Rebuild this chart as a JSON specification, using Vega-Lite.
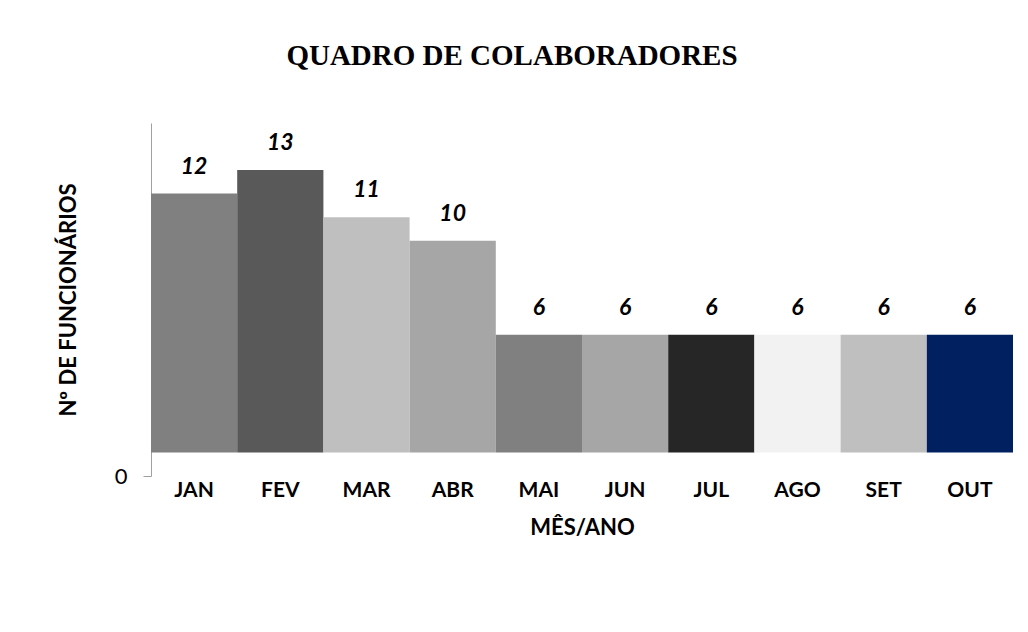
{
  "$schema": "https://vega.github.io/schema/vega-lite/v6.json",
  "width": 862,
  "height": 353,
  "autosize": {"type": "none"},
  "padding": {"left": 151, "top": 123, "right": 15, "bottom": 156},
  "background": "white",
  "title": {
    "text": "QUADRO DE COLABORADORES",
    "font": "Liberation Serif",
    "fontSize": 29,
    "fontWeight": "bold",
    "color": "#000000",
    "anchor": "middle",
    "dx": -70,
    "offset": 52
  },
  "data": {
    "values": [
      {"mes": "JAN", "n": 12, "cor": "#808080"},
      {"mes": "FEV", "n": 13, "cor": "#595959"},
      {"mes": "MAR", "n": 11, "cor": "#bfbfbf"},
      {"mes": "ABR", "n": 10, "cor": "#a6a6a6"},
      {"mes": "MAI", "n": 6, "cor": "#808080"},
      {"mes": "JUN", "n": 6, "cor": "#a6a6a6"},
      {"mes": "JUL", "n": 6, "cor": "#262626"},
      {"mes": "AGO", "n": 6, "cor": "#f2f2f2"},
      {"mes": "SET", "n": 6, "cor": "#bfbfbf"},
      {"mes": "OUT", "n": 6, "cor": "#002060"}
    ]
  },
  "config": {"view": {"stroke": null}},
  "encoding": {
    "x": {
      "field": "mes",
      "type": "nominal",
      "sort": null,
      "scale": {"paddingInner": 0, "paddingOuter": 0},
      "axis": {
        "title": "MÊS/ANO",
        "titleFont": "Lato",
        "titleFontSize": 22,
        "titleFontWeight": "bold",
        "titleColor": "#000000",
        "titlePadding": 17,
        "labelAngle": 0,
        "labelFont": "Lato",
        "labelFontSize": 21,
        "labelFontWeight": "bold",
        "labelColor": "#000000",
        "labelPadding": 3,
        "domain": false,
        "ticks": false
      }
    },
    "y": {
      "field": "n",
      "type": "quantitative",
      "scale": {"domain": [0, 15], "nice": false, "zero": true},
      "axis": {
        "title": "Nº DE FUNCIONÁRIOS",
        "titleFont": "Lato",
        "titleFontSize": 22,
        "titleFontWeight": "bold",
        "titleColor": "#000000",
        "titleX": -83,
        "titleBaseline": "middle",
        "values": [0],
        "labelFont": "Lato",
        "labelFontSize": 22,
        "labelColor": "#000000",
        "labelPadding": 16,
        "tickSize": 8,
        "tickColor": "#a0a0a0",
        "domainColor": "#a0a0a0",
        "grid": false
      }
    }
  },
  "layer": [
    {
      "mark": {"type": "bar"},
      "encoding": {
        "y2": {"datum": 1},
        "color": {"field": "cor", "type": "nominal", "scale": null, "legend": null}
      }
    },
    {
      "mark": {
        "type": "text",
        "baseline": "bottom",
        "dy": -15,
        "font": "Lato",
        "fontSize": 23,
        "fontWeight": "bold",
        "fontStyle": "italic",
        "color": "#000000"
      },
      "encoding": {"text": {"field": "n", "type": "quantitative"}}
    }
  ]
}
